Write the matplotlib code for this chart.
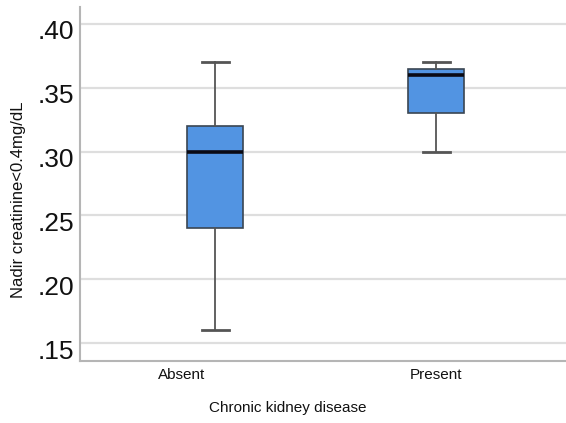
import matplotlib
matplotlib.use("Agg")
import matplotlib.pyplot as plt
from matplotlib.transforms import ScaledTranslation

# Data
categories = ["Absent", "Present"]
whisker_low = [0.16, 0.30]
q1 = [0.24, 0.33]
median = [0.30, 0.36]
q3 = [0.32, 0.365]
whisker_high = [0.37, 0.37]
yticks = [0.15, 0.20, 0.25, 0.30, 0.35, 0.40]
ytick_labels = [".15", ".20", ".25", ".30", ".35", ".40"]

regular = ["Liberation Sans", "DejaVu Sans"]

W, H = 566, 423
fig = plt.figure(figsize=(W / 100, H / 100), dpi=100)
ax = fig.add_axes([80 / W, 1 - 361 / H, (566 - 80) / W, (361 - 7) / H])

stats = []
for i, c in enumerate(categories):
    stats.append(dict(label=c, whislo=whisker_low[i], q1=q1[i], med=median[i],
                      q3=q3[i], whishi=whisker_high[i], fliers=[]))

positions = [1, 2]
ax.bxp(stats, positions=positions, widths=0.253, capwidths=0.122,
       patch_artist=True, showfliers=False,
       boxprops=dict(facecolor="#5294e2", edgecolor="#3a4552", linewidth=1.2),
       medianprops=dict(color="#0a0a14", linewidth=2.6, solid_capstyle="butt"),
       whiskerprops=dict(color="#555555", linewidth=1.3),
       capprops=dict(color="#555555", linewidth=2.0))

ax.set_xlim(0.389, 2.588)
ax.set_ylim(0.1359, 0.4133)

ax.set_axisbelow(True)
ax.yaxis.grid(True, color="#dedede", linewidth=1.6)
ax.xaxis.grid(False)

for s in ["top", "right"]:
    ax.spines[s].set_visible(False)
for s in ["left", "bottom"]:
    ax.spines[s].set_color("#b5b5b5")
    ax.spines[s].set_linewidth(1.5)

ax.set_yticks(yticks)
ax.set_yticklabels(ytick_labels, fontfamily=regular, fontsize=19, color="#111111")
ax.tick_params(axis="y", length=0, pad=4)
for lab in ax.get_yticklabels():
    lab.set_transform(lab.get_transform() + ScaledTranslation(0, -0.06, fig.dpi_scale_trans))

ax.set_xticks(positions)
ax.set_xticklabels(categories, fontfamily=regular, fontsize=11, color="#111111")
ax.tick_params(axis="x", length=0, pad=5)
xl = ax.get_xticklabels()
xl[0].set_transform(xl[0].get_transform() + ScaledTranslation(-0.33, 0, fig.dpi_scale_trans))

fig.text(288 / W, 1 - 408 / H, "Chronic kidney disease", ha="center", va="center",
         fontfamily=regular, fontsize=11, color="#111111")
fig.text(19 / W, 1 - 200 / H, "Nadir creatinine<0.4mg/dL", ha="center", va="center",
         rotation=90, fontfamily=regular, fontsize=12, color="#111111")

fig.savefig("out.png", dpi=100)
